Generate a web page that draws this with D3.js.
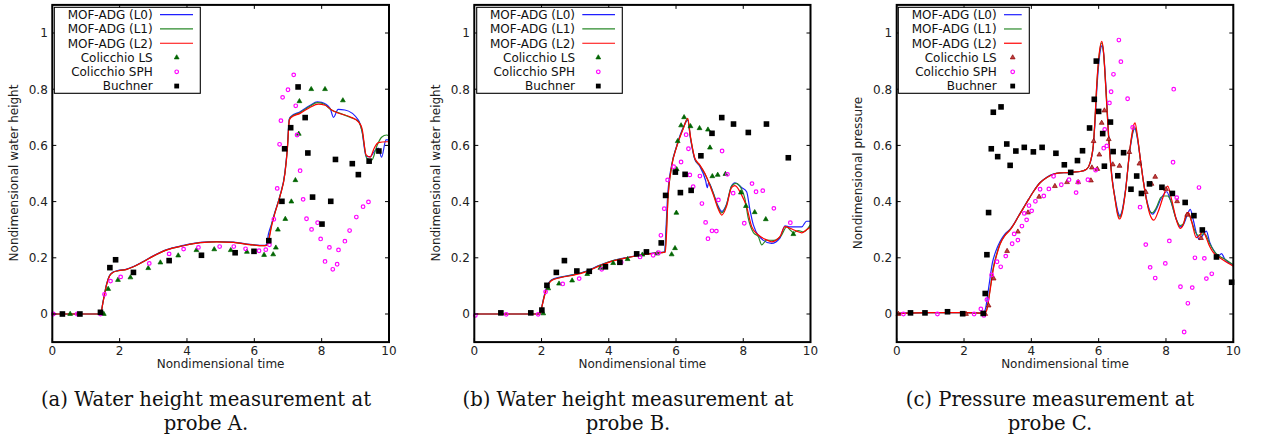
<!DOCTYPE html>
<html><head><meta charset="utf-8">
<script src="https://cdn.jsdelivr.net/npm/d3@7"></script>
<style>body{margin:0;background:#fff}svg{display:block}</style>
</head><body><svg id="c" width="1262" height="439"></svg>
<script>
// ---------- labels ----------
const xTicks=[0,2,4,6,8,10];
const yTicks=[0,0.2,0.4,0.6,0.8,1];
const yTickLabels=["0","0.2","0.4","0.6","0.8","1"];
const legendLabels=["MOF-ADG (L0)","MOF-ADG (L1)","MOF-ADG (L2)","Colicchio LS","Colicchio SPH","Buchner"];
const xTitle="Nondimensional time";
const yTitles=["Nondimensional water height","Nondimensional water height","Nondimensional pressure"];
const captions=[["(a) Water height measurement at","probe A."],["(b) Water height measurement at","probe B."],["(c) Pressure measurement at","probe C."]];

// ---------- panel A : water height at probe A ----------
const aL0=[[0,0],[1.43,0],[1.51,0.046],[1.61,0.106],[1.70,0.137],[1.80,0.149],[1.96,0.155],[2.21,0.16],[2.41,0.169],[2.70,0.187],[3.0,0.207],[3.4,0.229],[3.89,0.244],[4.39,0.255],[4.88,0.258],[5.38,0.256],[5.87,0.248],[6.27,0.244],[6.36,0.246],[6.42,0.285],[6.51,0.32],[6.61,0.362],[6.76,0.42],[6.91,0.505],[6.98,0.59],[7.04,0.694],[7.09,0.703],[7.36,0.72],[7.65,0.742],[7.87,0.755],[8.0,0.753],[8.25,0.732],[8.35,0.70],[8.49,0.728],[8.69,0.726],[9.09,0.69],[9.2,0.65],[9.32,0.56],[9.44,0.56],[9.56,0.578],[9.68,0.59],[9.78,0.558],[9.91,0.62],[10,0.62]];
const aL1=[[0,0],[1.43,0],[1.51,0.045],[1.61,0.104],[1.70,0.136],[1.80,0.148],[1.96,0.154],[2.21,0.159],[2.41,0.168],[2.70,0.186],[3.0,0.206],[3.4,0.228],[3.89,0.243],[4.39,0.254],[4.88,0.257],[5.38,0.255],[5.87,0.247],[6.27,0.243],[6.37,0.245],[6.43,0.268],[6.51,0.315],[6.61,0.36],[6.76,0.419],[6.91,0.502],[6.98,0.586],[7.04,0.692],[7.09,0.701],[7.36,0.717],[7.65,0.739],[7.87,0.752],[8.05,0.748],[8.30,0.725],[8.55,0.714],[8.84,0.70],[9.09,0.686],[9.2,0.65],[9.34,0.554],[9.49,0.548],[9.64,0.598],[9.78,0.629],[9.93,0.637],[10,0.633]];
const aL2=[[0,0],[1.43,0],[1.51,0.044],[1.61,0.103],[1.70,0.135],[1.80,0.148],[1.96,0.154],[2.21,0.159],[2.41,0.168],[2.70,0.186],[3.0,0.206],[3.4,0.228],[3.89,0.243],[4.39,0.254],[4.88,0.257],[5.38,0.255],[5.87,0.247],[6.27,0.243],[6.37,0.244],[6.43,0.263],[6.51,0.311],[6.61,0.358],[6.76,0.418],[6.91,0.50],[6.98,0.584],[7.04,0.69],[7.09,0.699],[7.36,0.714],[7.65,0.735],[7.90,0.747],[8.10,0.743],[8.30,0.726],[8.45,0.717],[8.84,0.702],[9.09,0.684],[9.2,0.66],[9.32,0.566],[9.44,0.558],[9.56,0.59],[9.68,0.61],[9.93,0.613],[10,0.613]];
const aLS=[[0.53,0],[1.53,0],[1.66,0.089],[1.95,0.121],[2.32,0.130],[2.85,0.163],[3.21,0.183],[3.74,0.208],[4.28,0.227],[4.81,0.230],[5.30,0.227],[5.78,0.221],[6.29,0.21],[6.56,0.212],[6.64,0.236],[6.70,0.30],[6.92,0.338],[7.10,0.40],[7.22,0.476],[7.32,0.641],[7.34,0.757],[7.69,0.80],[8.10,0.80],[8.63,0.76]];
const aSPH=[[0.03,0],[0.74,0],[1.43,0],[1.55,0.07],[1.73,0.117],[2.03,0.132],[2.88,0.18],[3.47,0.214],[3.90,0.231],[4.34,0.237],[4.97,0.24],[5.39,0.24],[5.74,0.232],[6.14,0.225],[6.34,0.229],[6.45,0.246],[6.58,0.337],[6.68,0.447],[6.75,0.604],[6.79,0.688],[6.84,0.771],[7.0,0.798],[7.17,0.851],[7.23,0.741],[7.27,0.637],[7.36,0.51],[7.45,0.408],[7.55,0.339],[7.70,0.301],[7.88,0.325],[7.97,0.267],[8.10,0.187],[8.23,0.237],[8.33,0.159],[8.46,0.177],[8.50,0.228],[8.69,0.259],[8.83,0.297],[9.03,0.345],[9.23,0.382],[9.39,0.399]];
const aBuchner=[[0.30,0],[0.82,0],[1.43,0.006],[1.71,0.165],[1.88,0.193],[2.41,0.148],[3.47,0.19],[4.43,0.209],[5.43,0.218],[5.99,0.223],[6.43,0.261],[6.82,0.401],[6.90,0.588],[7.08,0.663],[7.30,0.808],[7.51,0.699],[7.59,0.573],[7.73,0.416],[8.01,0.320],[8.27,0.401],[8.41,0.550],[8.91,0.535],[9.09,0.496],[9.41,0.544],[9.70,0.580]];

// ---------- panel B : water height at probe B ----------
const bL0=[[0,0],[1.95,0],[2.0,0.022],[2.07,0.06],[2.15,0.095],[2.30,0.122],[2.55,0.131],[2.94,0.14],[3.34,0.153],[3.74,0.174],[4.13,0.19],[4.53,0.201],[4.93,0.21],[5.32,0.217],[5.66,0.221],[5.70,0.3],[5.75,0.42],[5.87,0.53],[6.02,0.598],[6.22,0.665],[6.35,0.69],[6.43,0.625],[6.56,0.55],[6.71,0.525],[6.88,0.475],[6.93,0.45],[6.97,0.468],[7.11,0.43],[7.25,0.385],[7.36,0.365],[7.5,0.39],[7.65,0.455],[7.75,0.467],[7.95,0.45],[8.1,0.435],[8.2,0.37],[8.30,0.317],[8.59,0.263],[8.84,0.251],[9.09,0.27],[9.24,0.314],[9.39,0.31],[9.74,0.31],[9.88,0.33],[10,0.33]];
const bL1=[[0,0],[1.95,0],[2.0,0.021],[2.07,0.058],[2.15,0.092],[2.30,0.12],[2.55,0.13],[2.94,0.139],[3.34,0.152],[3.74,0.173],[4.13,0.19],[4.53,0.2],[4.93,0.209],[5.32,0.216],[5.67,0.22],[5.71,0.295],[5.76,0.41],[5.87,0.527],[6.02,0.597],[6.22,0.663],[6.34,0.694],[6.43,0.628],[6.56,0.552],[6.71,0.528],[6.86,0.498],[7.11,0.43],[7.25,0.38],[7.36,0.36],[7.5,0.388],[7.65,0.455],[7.78,0.465],[7.95,0.445],[8.05,0.41],[8.15,0.34],[8.3,0.29],[8.45,0.275],[8.55,0.246],[8.69,0.263],[8.9,0.262],[9.14,0.281],[9.29,0.31],[9.39,0.3],[9.49,0.29],[9.64,0.297],[9.79,0.292],[10,0.318]];
const bL2=[[0,0],[1.95,0],[2.0,0.02],[2.07,0.056],[2.15,0.09],[2.30,0.119],[2.55,0.129],[2.94,0.138],[3.34,0.151],[3.74,0.172],[4.13,0.189],[4.53,0.20],[4.93,0.209],[5.32,0.216],[5.68,0.22],[5.72,0.29],[5.76,0.41],[5.87,0.524],[6.02,0.595],[6.22,0.661],[6.35,0.696],[6.43,0.631],[6.56,0.554],[6.71,0.53],[6.86,0.50],[7.11,0.424],[7.25,0.375],[7.36,0.352],[7.5,0.382],[7.65,0.45],[7.75,0.457],[7.95,0.424],[8.10,0.382],[8.25,0.311],[8.45,0.281],[8.69,0.264],[8.85,0.257],[9.09,0.275],[9.24,0.311],[9.39,0.305],[9.59,0.295],[9.74,0.289],[9.88,0.3],[10,0.31]];
const bLS=[[2.05,0.002],[2.20,0.091],[2.52,0.108],[2.91,0.119],[3.36,0.142],[3.75,0.164],[4.13,0.181],[4.56,0.195],[5.00,0.211],[5.44,0.215],[5.87,0.212],[5.97,0.234],[6.01,0.36],[6.02,0.515],[6.05,0.615],[6.15,0.671],[6.24,0.70],[6.43,0.668],[6.70,0.661],[6.95,0.656],[7.01,0.592],[7.08,0.49],[7.24,0.495],[7.47,0.498],[7.93,0.432],[8.08,0.384],[8.34,0.362],[8.67,0.337],[9.49,0.284]];
const bSPH=[[0.03,-0.005],[0.95,-0.001],[1.90,-0.001],[2.12,0.079],[2.63,0.107],[3.12,0.126],[3.79,0.159],[4.37,0.184],[4.93,0.203],[5.32,0.209],[5.48,0.218],[5.55,0.28],[5.65,0.375],[5.75,0.477],[5.93,0.524],[6.15,0.541],[6.30,0.638],[6.37,0.588],[6.41,0.495],[6.51,0.453],[6.71,0.491],[6.77,0.393],[6.88,0.326],[6.95,0.268],[7.07,0.296],[7.20,0.295],[7.26,0.406],[7.37,0.58],[7.53,0.497],[7.70,0.43],[8.03,0.323],[8.26,0.464],[8.38,0.435],[8.58,0.439],[8.91,0.376],[9.40,0.325]];
const bBuchner=[[0.79,0.004],[1.68,0.004],[2.01,0.014],[2.16,0.102],[2.44,0.148],[2.68,0.19],[3.05,0.153],[3.42,0.152],[3.90,0.168],[4.33,0.184],[4.83,0.214],[5.12,0.221],[5.56,0.253],[5.69,0.422],[5.98,0.505],[6.13,0.432],[6.27,0.497],[6.45,0.44],[6.74,0.563],[7.07,0.643],[7.36,0.699],[7.71,0.676],[8.15,0.646],[8.69,0.676],[9.34,0.556]];

// ---------- panel C : pressure at probe C ----------
const cL0=[[0,0.002],[1,0.005],[2,0.005],[2.57,0.003],[2.64,0.02],[2.74,0.1],[2.84,0.18],[2.95,0.225],[3.07,0.258],[3.22,0.285],[3.37,0.302],[3.47,0.318],[3.61,0.347],[3.76,0.377],[3.91,0.407],[4.06,0.436],[4.26,0.468],[4.46,0.487],[4.65,0.498],[4.85,0.502],[5.05,0.503],[5.25,0.505],[5.45,0.507],[5.64,0.515],[5.74,0.535],[5.79,0.558],[5.84,0.595],[5.89,0.68],[5.94,0.79],[6.01,0.9],[6.1,0.955],[6.15,0.925],[6.22,0.8],[6.3,0.63],[6.4,0.485],[6.5,0.405],[6.57,0.365],[6.63,0.35],[6.7,0.37],[6.8,0.445],[6.93,0.585],[7.04,0.655],[7.08,0.66],[7.15,0.625],[7.24,0.55],[7.34,0.465],[7.44,0.4],[7.53,0.365],[7.6,0.355],[7.7,0.37],[7.85,0.41],[8.02,0.435],[8.12,0.41],[8.3,0.34],[8.42,0.31],[8.52,0.318],[8.64,0.355],[8.72,0.372],[8.82,0.33],[8.92,0.28],[9.0,0.265],[9.1,0.282],[9.2,0.295],[9.3,0.255],[9.45,0.22],[9.55,0.205],[9.65,0.215],[9.75,0.195],[10,0.175]];
const cL1=[[0,0.002],[1,0.005],[2,0.005],[2.6,0.003],[2.67,0.014],[2.77,0.085],[2.87,0.165],[2.97,0.213],[3.07,0.25],[3.22,0.281],[3.37,0.3],[3.47,0.317],[3.61,0.346],[3.76,0.376],[3.91,0.406],[4.06,0.435],[4.26,0.467],[4.46,0.486],[4.65,0.497],[4.85,0.502],[5.05,0.503],[5.25,0.505],[5.45,0.507],[5.64,0.515],[5.74,0.536],[5.79,0.56],[5.84,0.6],[5.89,0.69],[5.94,0.805],[6.01,0.915],[6.09,0.965],[6.14,0.935],[6.21,0.81],[6.29,0.64],[6.39,0.49],[6.49,0.408],[6.56,0.36],[6.63,0.345],[6.7,0.365],[6.8,0.44],[6.93,0.588],[7.04,0.66],[7.07,0.665],[7.15,0.63],[7.23,0.558],[7.33,0.47],[7.43,0.4],[7.52,0.365],[7.6,0.36],[7.7,0.375],[7.85,0.415],[7.95,0.42],[8.05,0.42],[8.15,0.4],[8.3,0.338],[8.42,0.315],[8.52,0.322],[8.6,0.35],[8.66,0.36],[8.76,0.33],[8.88,0.29],[8.95,0.28],[9.05,0.284],[9.15,0.285],[9.3,0.25],[9.45,0.22],[9.6,0.205],[9.75,0.195],[10,0.175]];
const cL2=[[0,0.002],[1,0.005],[2,0.005],[2.6,0.003],[2.67,0.012],[2.77,0.08],[2.87,0.16],[2.97,0.21],[3.07,0.248],[3.22,0.28],[3.37,0.299],[3.47,0.317],[3.61,0.346],[3.76,0.376],[3.91,0.406],[4.06,0.435],[4.26,0.467],[4.46,0.486],[4.65,0.497],[4.85,0.502],[5.05,0.503],[5.25,0.505],[5.45,0.507],[5.64,0.515],[5.74,0.536],[5.79,0.56],[5.84,0.6],[5.89,0.69],[5.94,0.81],[6.01,0.92],[6.09,0.97],[6.14,0.94],[6.21,0.81],[6.29,0.64],[6.39,0.489],[6.49,0.406],[6.56,0.355],[6.62,0.338],[6.7,0.36],[6.8,0.44],[6.93,0.59],[7.05,0.675],[7.08,0.68],[7.15,0.635],[7.23,0.56],[7.33,0.47],[7.43,0.4],[7.52,0.355],[7.64,0.334],[7.77,0.365],[7.92,0.418],[8.05,0.455],[8.17,0.406],[8.32,0.33],[8.42,0.305],[8.51,0.317],[8.6,0.355],[8.66,0.362],[8.76,0.33],[8.9,0.272],[9.0,0.28],[9.1,0.295],[9.2,0.27],[9.3,0.24],[9.41,0.218],[9.55,0.205],[9.70,0.192],[10,0.17]];
const cLS=[[0.05,0],[2.06,0],[2.63,0],[2.73,0.03],[2.88,0.126],[3.28,0.224],[3.60,0.293],[3.90,0.361],[4.23,0.417],[4.70,0.455],[5.06,0.469],[5.39,0.469],[5.77,0.475],[5.80,0.521],[5.85,0.615],[5.96,0.516],[6.02,0.567],[6.09,0.68],[6.17,0.724],[6.30,0.622],[6.42,0.532],[6.62,0.527],[6.91,0.576],[7.21,0.535],[7.40,0.434],[7.57,0.463],[7.68,0.488],[8.0,0.444],[8.33,0.401],[8.63,0.353],[9.04,0.27]];
const cSPH=[[0.20,0],[1.21,0],[2.30,0],[2.50,0.018],[2.59,-0.005],[2.68,0.051],[2.82,0.139],[2.98,0.186],[3.09,0.168],[3.24,0.206],[3.43,0.25],[3.49,0.285],[3.60,0.263],[3.72,0.313],[3.79,0.358],[3.86,0.335],[3.93,0.386],[4.01,0.367],[4.12,0.401],[4.26,0.444],[4.37,0.42],[4.52,0.445],[4.66,0.49],[4.89,0.46],[5.12,0.478],[5.33,0.432],[5.39,0.469],[5.68,0.478],[5.91,0.512],[6.15,0.59],[6.18,0.657],[6.24,0.598],[6.32,0.751],[6.37,0.791],[6.44,0.853],[6.60,0.975],[6.66,0.898],[6.86,0.766],[7.01,0.664],[7.23,0.38],[7.40,0.247],[7.53,0.166],[7.68,0.128],[7.98,0.18],[8.10,0.26],[8.21,0.54],[8.23,0.80],[8.32,0.414],[8.43,0.097],[8.54,-0.064],[8.65,0.038],[8.78,0.094],[8.86,0.20],[8.98,0.45],[9.14,0.198],[9.20,0.126],[9.36,0.143]];
const cBuchner=[[0.41,0.004],[0.84,0.004],[1.51,0.008],[1.96,0.001],[2.57,0.002],[2.63,0.073],[2.68,0.211],[2.73,0.361],[2.81,0.588],[2.87,0.718],[3.0,0.56],[3.10,0.737],[3.27,0.605],[3.37,0.529],[3.54,0.58],[3.79,0.593],[4.06,0.577],[4.32,0.593],[4.73,0.572],[4.98,0.531],[5.17,0.504],[5.37,0.546],[5.52,0.581],[5.73,0.662],[5.87,0.764],[5.93,0.90],[6.0,0.721],[6.12,0.642],[6.17,0.526],[6.35,0.683],[6.43,0.578],[6.57,0.492],[6.74,0.574],[6.96,0.444],[7.13,0.491],[7.27,0.429],[7.51,0.463],[7.88,0.451],[8.19,0.429],[8.57,0.397],[8.83,0.35],[9.08,0.299],[9.50,0.203],[9.95,0.113]];

// ---------- layout & style (not data) ----------
const seriesByPanel=[
  {lines:[aL0,aL1,aL2],ls:aLS,sph:aSPH,buch:aBuchner},
  {lines:[bL0,bL1,bL2],ls:bLS,sph:bSPH,buch:bBuchner},
  {lines:[cL0,cL1,cL2],ls:cLS,sph:cSPH,buch:cBuchner}
];
const layout=[
  {x0:52.3,x1:389,capX:206,yTitleX:17.5,legL:54.3,legR:200.3,txtR:152.7,lnA:160,lnB:193,mk:176.7,lsColor:"#006400",lsFill:"#006400"},
  {x0:474.3,x1:810.5,capX:628,yTitleX:439.5,legL:476.7,legR:622.3,txtR:575,lnA:582.3,lnB:615,mk:598.3,lsColor:"#006400",lsFill:"#006400"},
  {x0:896.7,x1:1233.3,capX:1050,yTitleX:862,legL:898.3,legR:1029.3,txtR:996.7,lnA:1004,lnB:1021.7,mk:1012.7,lsColor:"#8b0000",lsFill:"#c04040"}
];
const lineColors=["#1f1fff","#2a8a2a","#ff0000"];
const sans="DejaVu Sans";

const svg=d3.select("#c");
const yScale=d3.scaleLinear().domain([-0.1,1.1]).range([342.1,4.9]);

layout.forEach((L,i)=>{
  const S=seriesByPanel[i];
  const x=d3.scaleLinear().domain([0,10]).range([L.x0,L.x1]);
  const g=svg.append("g");
  const line=d3.line().x(d=>x(d[0])).y(d=>yScale(d[1])).curve(d3.curveMonotoneX);

  S.lines.forEach((arr,k)=>{
    g.append("path").attr("d",line(arr)).attr("fill","none")
      .attr("stroke",lineColors[k]).attr("stroke-width",1.2).attr("stroke-linejoin","round");
  });
  const tri=d3.symbol().type(d3.symbolTriangle).size(10);
  g.selectAll(null).data(S.ls).join("path").attr("d",tri)
    .attr("transform",d=>`translate(${x(d[0])},${yScale(d[1])})`)
    .attr("fill",L.lsFill).attr("stroke",L.lsColor).attr("stroke-width",0.7);
  g.selectAll(null).data(S.sph).join("circle")
    .attr("cx",d=>x(d[0])).attr("cy",d=>yScale(d[1])).attr("r",1.8)
    .attr("fill","none").attr("stroke","#ff00ff").attr("stroke-width",1.2);
  g.selectAll(null).data(S.buch).join("rect")
    .attr("x",d=>x(d[0])-2.8).attr("y",d=>yScale(d[1])-2.8).attr("width",5.6).attr("height",5.6)
    .attr("fill","#000");

  g.append("rect").attr("x",L.x0).attr("y",yScale(1.1)).attr("width",L.x1-L.x0)
    .attr("height",yScale(-0.1)-yScale(1.1)).attr("fill","none").attr("stroke","#000").attr("stroke-width",2);
  const tk=4;
  yTicks.forEach((v,j)=>{
    const yy=yScale(v);
    g.append("line").attr("x1",L.x0).attr("x2",L.x0+tk).attr("y1",yy).attr("y2",yy).attr("stroke","#000").attr("stroke-width",1);
    g.append("line").attr("x1",L.x1).attr("x2",L.x1-tk).attr("y1",yy).attr("y2",yy).attr("stroke","#000").attr("stroke-width",1);
    g.append("text").attr("x",L.x0-4.5).attr("y",yy+4.3).attr("text-anchor","end")
      .attr("font-family",sans).attr("font-size",12).attr("fill","#222").text(yTickLabels[j]);
  });
  xTicks.forEach(v=>{
    const xx=x(v);
    g.append("line").attr("x1",xx).attr("x2",xx).attr("y1",yScale(-0.1)).attr("y2",yScale(-0.1)-tk).attr("stroke","#000").attr("stroke-width",1);
    g.append("line").attr("x1",xx).attr("x2",xx).attr("y1",yScale(1.1)).attr("y2",yScale(1.1)+tk).attr("stroke","#000").attr("stroke-width",1);
    g.append("text").attr("x",xx).attr("y",355).attr("text-anchor","middle")
      .attr("font-family",sans).attr("font-size",12).attr("fill","#222").text(v);
  });
  g.append("text").attr("x",(L.x0+L.x1)/2).attr("y",368).attr("text-anchor","middle")
    .attr("font-family",sans).attr("font-size",12).attr("fill","#222").text(xTitle);
  g.append("text").attr("transform",`translate(${L.yTitleX},173) rotate(-90)`).attr("text-anchor","middle")
    .attr("font-family",sans).attr("font-size",12).attr("fill","#222").text(yTitles[i]);

  g.append("rect").attr("x",L.legL).attr("y",7.3).attr("width",L.legR-L.legL).attr("height",86)
    .attr("fill","#fff").attr("stroke","#000").attr("stroke-width",1.1);
  legendLabels.forEach((lab,r)=>{
    const cy=14.7+r*14.27;
    g.append("text").attr("x",L.txtR).attr("y",cy+4.3).attr("text-anchor","end")
      .attr("font-family",sans).attr("font-size",12).attr("fill","#111").text(lab);
    if(r<3){
      g.append("line").attr("x1",L.lnA).attr("x2",L.lnB).attr("y1",cy).attr("y2",cy)
        .attr("stroke",lineColors[r]).attr("stroke-width",1.2);
    } else if(r===3){
      g.append("path").attr("d",tri).attr("transform",`translate(${L.mk},${cy})`)
        .attr("fill",L.lsFill).attr("stroke",L.lsColor).attr("stroke-width",0.7);
    } else if(r===4){
      g.append("circle").attr("cx",L.mk).attr("cy",cy).attr("r",1.8)
        .attr("fill","none").attr("stroke","#ff00ff").attr("stroke-width",1.2);
    } else {
      g.append("rect").attr("x",L.mk-2.4).attr("y",cy-2.4).attr("width",4.8).attr("height",4.8).attr("fill","#000");
    }
  });

  captions[i].forEach((c,k)=>{
    g.append("text").attr("x",L.capX).attr("y",406+k*24).attr("text-anchor","middle")
      .attr("font-family","DejaVu Serif").attr("font-size",19.6).attr("fill","#111").text(c);
  });
});
</script></body></html>
